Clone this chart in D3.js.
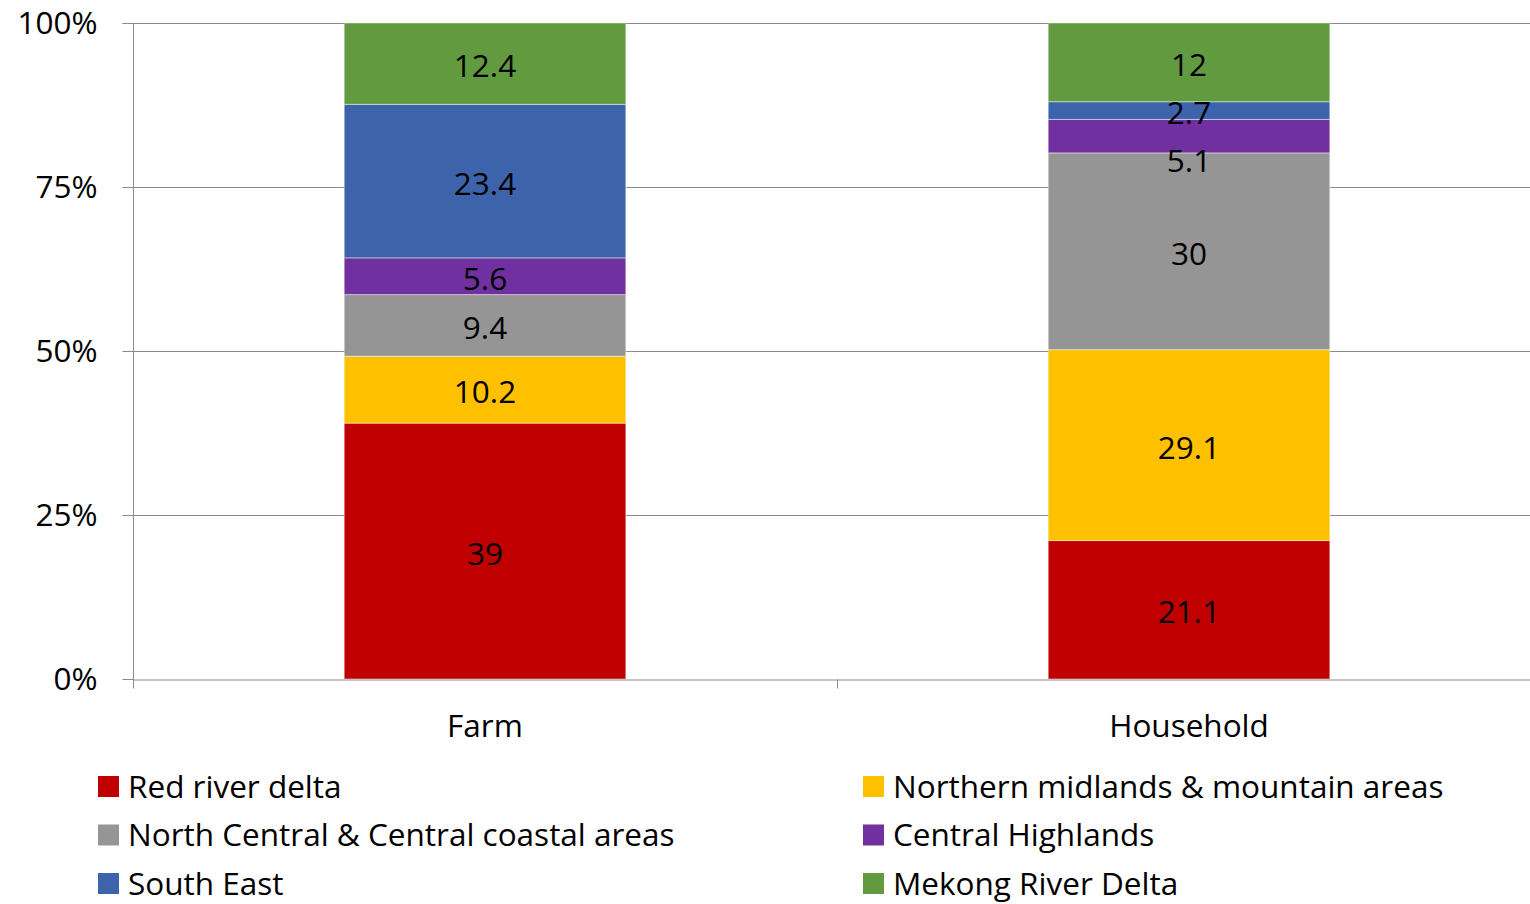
<!DOCTYPE html>
<html><head><meta charset="utf-8">
<script src="https://cdn.jsdelivr.net/npm/d3@7"></script>
<style>body{margin:0;background:#fff;overflow:hidden}svg{display:block}text{font-family:"Open Sans",sans-serif;fill:#000}</style>
</head><body><svg id="c" width="1530" height="904"></svg>
<script>
const categories = ["Farm", "Household"];
const seriesNames = ["Red river delta", "Northern midlands & mountain areas", "North Central & Central coastal areas", "Central Highlands", "South East", "Mekong River Delta"];
const farmValues = [39, 10.2, 9.4, 5.6, 23.4, 12.4];
const householdValues = [21.1, 29.1, 30, 5.1, 2.7, 12];
const seriesColors = ["#C00000", "#FFC000", "#959595", "#7030A0", "#3D64AB", "#629A40"];
const yTicks = [0, 0.25, 0.5, 0.75, 1];
const yTickLabels = ["0%", "25%", "50%", "75%", "100%"];

(function () {
const svg = d3.select("#c");
const pL = 133, pR = 1541, pT = 23, pB = 679;
const x = d3.scaleBand().domain(categories).range([pL, pR]).paddingInner(0).paddingOuter(0);
const y = d3.scaleLinear().domain([0, 1]).range([pB, pT]);
const fs = 31.5;
const ff = "Open Sans";

const rows = categories.map((c, i) => {
  const vals = i === 0 ? farmValues : householdValues;
  const o = {cat: c};
  seriesNames.forEach((s, j) => o[s] = vals[j]);
  o.total = d3.sum(vals);
  return o;
});
const stacked = d3.stack().keys(seriesNames).value((d, k) => d[k] / d.total)(rows);

// gridlines
svg.append("g").selectAll("line").data(yTicks.slice(1)).join("line")
  .attr("x1", pL).attr("x2", pR).attr("y1", d => Math.round(y(d)) + 0.5).attr("y2", d => Math.round(y(d)) + 0.5)
  .attr("stroke", "#8a8a8a").attr("stroke-width", 1);

// bars
const bw = x.bandwidth() * 0.4;
const g = svg.append("g");
stacked.forEach((layer, j) => {
  g.selectAll(null).data(layer).join("rect")
    .attr("x", d => x(d.data.cat) + (x.bandwidth() - bw) / 2)
    .attr("width", bw)
    .attr("y", d => y(d[1]))
    .attr("height", d => y(d[0]) - y(d[1]))
    .attr("fill", seriesColors[j])
    .attr("stroke", "rgba(255,255,255,0.45)").attr("stroke-width", 1);
});

// axes
const yAxis = d3.axisLeft(y).tickValues(yTicks).tickFormat((d, i) => yTickLabels[i]).tickSize(11).tickPadding(25);
const ya = svg.append("g").attr("transform", `translate(${pL + 0.5},0)`).call(yAxis);
ya.select(".domain").attr("stroke", "#8a8a8a").attr("d", `M-11,${pT + 0.5}H0V${pB + 9}`);
ya.selectAll(".tick line").attr("stroke", "#8a8a8a");
ya.selectAll(".tick text").attr("font-size", fs).attr("font-family", ff).attr("fill", "#000");

const xa = svg.append("g").attr("transform", `translate(0,${pB + 0.5})`)
  .call(d3.axisBottom(x).tickSize(0).tickPadding(35));
xa.select(".domain").attr("stroke", "#8a8a8a");
xa.selectAll(".tick text").attr("font-size", fs).attr("font-family", ff).attr("fill", "#000");
const bounds = [pL, ...categories.map(c => x(c) + x.bandwidth())];
xa.selectAll(".cb").data(bounds).join("line").attr("class", "cb")
  .attr("x1", d => Math.round(d) + 0.5).attr("x2", d => Math.round(d) + 0.5).attr("y1", 0).attr("y2", 9)
  .attr("stroke", "#8a8a8a");

// labels with simple collision push-down
const minGap = 48;
categories.forEach((c, ci) => {
  let prev = -Infinity;
  for (let j = seriesNames.length - 1; j >= 0; j--) {
    const d = stacked[j][ci];
    let cy = (y(d[0]) + y(d[1])) / 2;
    if (cy - prev < minGap * 0.6) cy = prev + minGap;
    prev = cy;
    svg.append("text").attr("x", x(c) + x.bandwidth() / 2).attr("y", cy + 1)
      .attr("text-anchor", "middle").attr("dominant-baseline", "central")
      .attr("font-size", fs).text(d.data[seriesNames[j]]);
  }
});

// legend
const lg = svg.append("g");
seriesNames.forEach((name, i) => {
  const col = i % 2, row = Math.floor(i / 2);
  const lx = col === 0 ? 98 : 863, ly = 786 + row * 48.5;
  lg.append("rect").attr("x", lx).attr("y", ly - 10).attr("width", 21).attr("height", 21).attr("fill", seriesColors[i]);
  lg.append("text").attr("x", lx + 30).attr("y", ly - 1).attr("dominant-baseline", "central")
    .attr("font-size", fs).text(name);
});
})();
</script></body></html>
